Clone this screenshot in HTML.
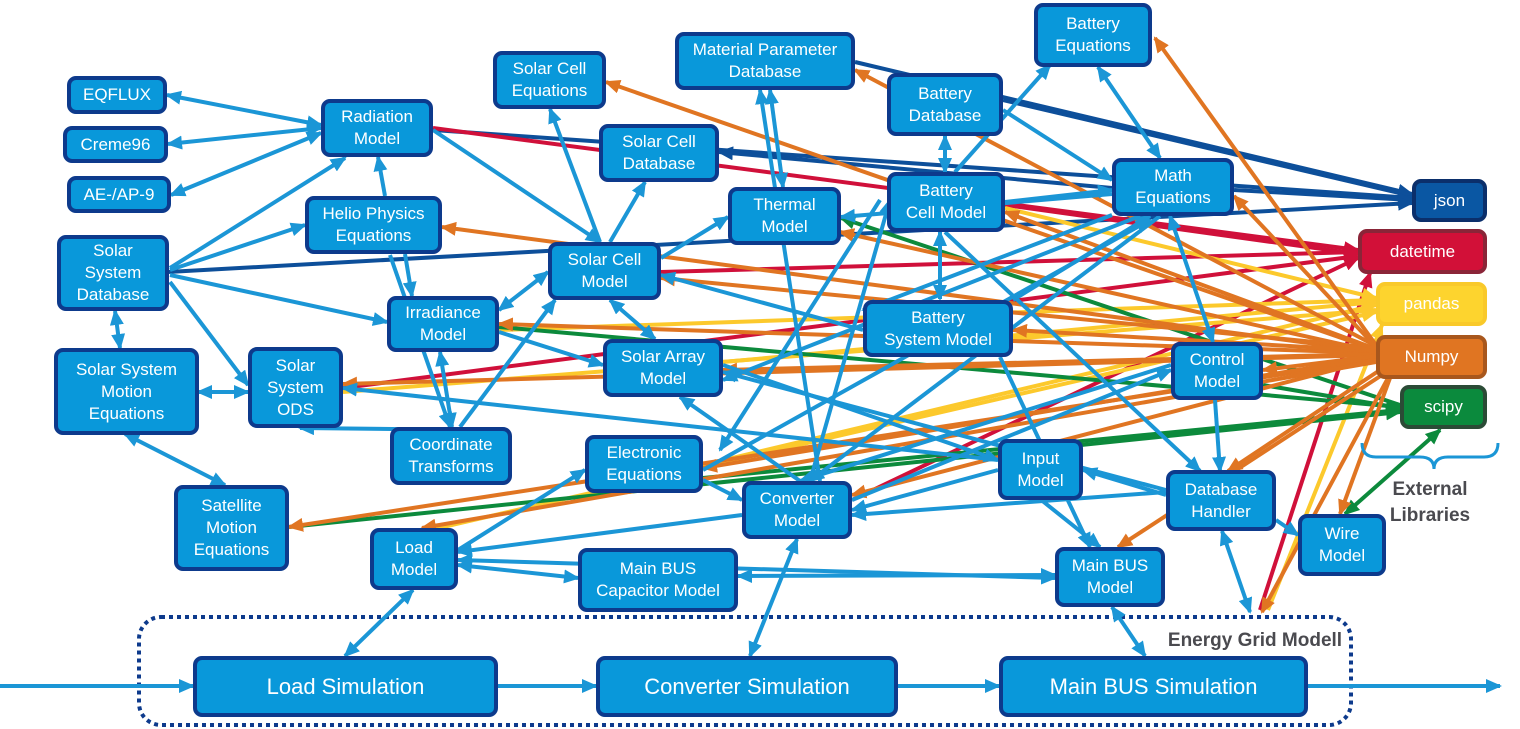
<!DOCTYPE html>
<html><head><meta charset="utf-8"><style>
html,body{margin:0;padding:0;background:#fff;width:1520px;height:729px;overflow:hidden;position:relative;font-family:"Liberation Sans Narrow","Liberation Sans",sans-serif}
svg{position:absolute;left:0;top:0}
.n{position:absolute;box-sizing:border-box;background:#0998da;border:4px solid #0d3a8c;border-radius:9px;color:#fff;display:flex;align-items:center;justify-content:center;text-align:center;font-size:17px;line-height:22px}
.big{font-size:22px}
.lbl{position:absolute;font-family:"Liberation Sans",sans-serif;font-weight:bold;color:#4a4a4f;font-size:19px;line-height:26px;text-align:center}
line{stroke-width:4;fill:none}
.B{stroke:#1b96d6}.D{stroke:#0d4f9a}.R{stroke:#d0103a}.Y{stroke:#fcc92c}.O{stroke:#e07522}.G{stroke:#0c8a3c}
</style></head><body>
<svg width="1520" height="729" viewBox="0 0 1520 729">
<defs>
<marker id="aB" markerUnits="userSpaceOnUse" markerWidth="16" markerHeight="14" refX="14" refY="7" orient="auto-start-reverse"><path d="M0,0L16,7L0,14z" fill="#1b96d6"/></marker>
<marker id="aD" markerUnits="userSpaceOnUse" markerWidth="16" markerHeight="14" refX="14" refY="7" orient="auto-start-reverse"><path d="M0,0L16,7L0,14z" fill="#0d4f9a"/></marker>
<marker id="aR" markerUnits="userSpaceOnUse" markerWidth="16" markerHeight="14" refX="14" refY="7" orient="auto-start-reverse"><path d="M0,0L16,7L0,14z" fill="#d0103a"/></marker>
<marker id="aY" markerUnits="userSpaceOnUse" markerWidth="16" markerHeight="14" refX="14" refY="7" orient="auto-start-reverse"><path d="M0,0L16,7L0,14z" fill="#fcc92c"/></marker>
<marker id="aO" markerUnits="userSpaceOnUse" markerWidth="16" markerHeight="14" refX="14" refY="7" orient="auto-start-reverse"><path d="M0,0L16,7L0,14z" fill="#e07522"/></marker>
<marker id="aG" markerUnits="userSpaceOnUse" markerWidth="16" markerHeight="14" refX="14" refY="7" orient="auto-start-reverse"><path d="M0,0L16,7L0,14z" fill="#0c8a3c"/></marker>
</defs>
<rect x="139" y="617" width="1212" height="108" rx="22" fill="none" stroke="#0d3a8c" stroke-width="4" stroke-dasharray="4 4"/>
<!-- dark blue -->
<g marker-end="url(#aD)">
<line class="D" x1="433" y1="130" x2="1412" y2="198"/>
<line class="D" x1="1003" y1="100" x2="1412" y2="196"/>
<line class="D" x1="855" y1="62" x2="1412" y2="194"/>
<line class="D" x1="1234" y1="190" x2="1412" y2="200"/>
<line class="D" x1="168" y1="272" x2="1412" y2="203"/>
<line class="D" x1="1112" y1="188" x2="719" y2="152"/>
</g>
<!-- red -->
<g marker-end="url(#aR)">
<line class="R" x1="433" y1="128" x2="1358" y2="250"/>
<line class="R" x1="661" y1="272" x2="1358" y2="252"/>
<line class="R" x1="1005" y1="205" x2="1358" y2="254"/>
<line class="R" x1="1358" y1="256" x2="343" y2="388"/>
<line class="R" x1="1260" y1="610" x2="1370" y2="273"/>
<line class="R" x1="852" y1="500" x2="1358" y2="258"/>
</g>
<!-- yellow -->
<g marker-end="url(#aY)">
<line class="Y" x1="499" y1="330" x2="1376" y2="300"/>
<line class="Y" x1="723" y1="362" x2="1376" y2="302"/>
<line class="Y" x1="703" y1="465" x2="1376" y2="305"/>
<line class="Y" x1="1005" y1="208" x2="1376" y2="298"/>
<line class="Y" x1="1268" y1="610" x2="1382" y2="325"/>
<line class="Y" x1="343" y1="392" x2="1376" y2="310"/>
<line class="Y" x1="430" y1="530" x2="1376" y2="312"/>
</g>
<!-- green -->
<g marker-end="url(#aG)">
<line class="G" x1="1400" y1="405" x2="841" y2="218"/>
<line class="G" x1="499" y1="327" x2="1400" y2="407"/>
<line class="G" x1="703" y1="478" x2="1400" y2="410"/>
<line class="G" x1="1263" y1="385" x2="1400" y2="408"/>
<line class="G" x1="289" y1="527" x2="1400" y2="412"/>
<line class="G" x1="1345" y1="514" x2="1440" y2="430" marker-start="url(#aG)"/>
</g>
<!-- orange -->
<g marker-end="url(#aO)">
<line class="O" x1="1376" y1="350" x2="606" y2="82"/>
<line class="O" x1="1376" y1="352" x2="442" y2="227"/>
<line class="O" x1="1376" y1="360" x2="289" y2="527"/>
<line class="O" x1="1376" y1="355" x2="343" y2="384"/>
<line class="O" x1="1376" y1="353" x2="499" y2="324"/>
<line class="O" x1="1376" y1="345" x2="1155" y2="38"/>
<line class="O" x1="1376" y1="347" x2="1234" y2="196"/>
<line class="O" x1="1376" y1="349" x2="1005" y2="212"/>
<line class="O" x1="1380" y1="370" x2="1228" y2="471"/>
<line class="O" x1="1382" y1="375" x2="1118" y2="547"/>
<line class="O" x1="1376" y1="357" x2="703" y2="468"/>
<line class="O" x1="1376" y1="359" x2="852" y2="495"/>
<line class="O" x1="1376" y1="362" x2="422" y2="528"/>
<line class="O" x1="1376" y1="354" x2="723" y2="370"/>
<line class="O" x1="1376" y1="356" x2="1263" y2="370"/>
<line class="O" x1="1376" y1="351" x2="1013" y2="330"/>
<line class="O" x1="1388" y1="378" x2="1262" y2="612"/>
<line class="O" x1="1376" y1="346" x2="855" y2="70"/>
<line class="O" x1="1376" y1="348" x2="661" y2="278"/>
<line class="O" x1="1376" y1="352" x2="840" y2="232"/>
<line class="O" x1="1390" y1="378" x2="1340" y2="514"/>
</g>
<!-- light blue one-way -->
<g marker-end="url(#aB)">
<line class="B" x1="170" y1="268" x2="345" y2="158"/>
<line class="B" x1="170" y1="270" x2="305" y2="225"/>
<line class="B" x1="170" y1="275" x2="387" y2="322"/>
<line class="B" x1="170" y1="282" x2="248" y2="385"/>
<line class="B" x1="385" y1="196" x2="378" y2="157"/>
<line class="B" x1="405" y1="254" x2="412" y2="296"/>
<line class="B" x1="433" y1="130" x2="600" y2="242"/>
<line class="B" x1="600" y1="242" x2="550" y2="109"/>
<line class="B" x1="610" y1="242" x2="645" y2="182"/>
<line class="B" x1="661" y1="258" x2="728" y2="217"/>
<line class="B" x1="460" y1="427" x2="555" y2="300"/>
<line class="B" x1="499" y1="332" x2="603" y2="365"/>
<line class="B" x1="998" y1="460" x2="343" y2="388"/>
<line class="B" x1="480" y1="430" x2="300" y2="428"/>
<line class="B" x1="390" y1="255" x2="450" y2="427"/>
<line class="B" x1="955" y1="172" x2="1050" y2="65"/>
<line class="B" x1="1005" y1="202" x2="1112" y2="190"/>
<line class="B" x1="1112" y1="194" x2="841" y2="217"/>
<line class="B" x1="1013" y1="300" x2="1150" y2="216"/>
<line class="B" x1="945" y1="232" x2="1200" y2="471"/>
<line class="B" x1="810" y1="481" x2="890" y2="200"/>
<line class="B" x1="820" y1="481" x2="760" y2="90"/>
<line class="B" x1="703" y1="470" x2="1150" y2="220"/>
<line class="B" x1="852" y1="500" x2="1171" y2="370"/>
<line class="B" x1="723" y1="365" x2="998" y2="460"/>
<line class="B" x1="998" y1="470" x2="852" y2="510"/>
<line class="B" x1="1166" y1="492" x2="852" y2="515"/>
<line class="B" x1="1166" y1="495" x2="1083" y2="470"/>
<line class="B" x1="1276" y1="520" x2="1298" y2="535"/>
<line class="B" x1="742" y1="515" x2="458" y2="552"/>
<line class="B" x1="458" y1="550" x2="585" y2="470"/>
<line class="B" x1="703" y1="480" x2="742" y2="500"/>
<line class="B" x1="800" y1="481" x2="680" y2="397"/>
<line class="B" x1="1040" y1="499" x2="1100" y2="547"/>
<line class="B" x1="1215" y1="400" x2="1220" y2="471"/>
<line class="B" x1="1000" y1="357" x2="1090" y2="547"/>
<line class="B" x1="1112" y1="215" x2="863" y2="310"/>
<line class="B" x1="1140" y1="216" x2="723" y2="380"/>
<line class="B" x1="1166" y1="490" x2="723" y2="372"/>
<line class="B" x1="880" y1="200" x2="720" y2="450"/>
<line class="B" x1="1171" y1="365" x2="800" y2="481"/>
<line class="B" x1="1160" y1="216" x2="810" y2="481"/>
<line class="B" x1="1003" y1="110" x2="1112" y2="180"/>
<line class="B" x1="863" y1="330" x2="661" y2="275"/>
<line class="B" x1="0" y1="686" x2="193" y2="686"/>
<line class="B" x1="498" y1="686" x2="596" y2="686"/>
<line class="B" x1="898" y1="686" x2="999" y2="686"/>
<line class="B" x1="1308" y1="686" x2="1500" y2="686"/>
</g>
<!-- light blue bidirectional -->
<g marker-end="url(#aB)" marker-start="url(#aB)">
<line class="B" x1="167" y1="95" x2="321" y2="125"/>
<line class="B" x1="168" y1="144" x2="321" y2="128"/>
<line class="B" x1="171" y1="195" x2="321" y2="133"/>
<line class="B" x1="115" y1="311" x2="120" y2="348"/>
<line class="B" x1="198" y1="392" x2="248" y2="392"/>
<line class="B" x1="125" y1="434" x2="225" y2="485"/>
<line class="B" x1="440" y1="352" x2="452" y2="427"/>
<line class="B" x1="610" y1="300" x2="655" y2="339"/>
<line class="B" x1="548" y1="272" x2="499" y2="310"/>
<line class="B" x1="770" y1="90" x2="783" y2="187"/>
<line class="B" x1="945" y1="136" x2="945" y2="172"/>
<line class="B" x1="1098" y1="67" x2="1160" y2="158"/>
<line class="B" x1="940" y1="232" x2="940" y2="299"/>
<line class="B" x1="1170" y1="216" x2="1213" y2="342"/>
<line class="B" x1="1222" y1="531" x2="1250" y2="612"/>
<line class="B" x1="797" y1="539" x2="750" y2="656"/>
<line class="B" x1="413" y1="590" x2="345" y2="656"/>
<line class="B" x1="1112" y1="607" x2="1145" y2="656"/>
<line class="B" x1="458" y1="565" x2="578" y2="578"/>
<line class="B" x1="458" y1="560" x2="1055" y2="578"/>
<line class="B" x1="738" y1="576" x2="1055" y2="575"/>
</g>
<path d="M1362,443 q0,14 14,14 h44 q14,0 14,12 q0,-12 14,-12 h36 q14,0 14,-14" fill="none" stroke="#1b96d6" stroke-width="3"/>
</svg>

<div class="n" style="left:67px;top:76px;width:100px;height:38px">EQFLUX</div>
<div class="n" style="left:63px;top:126px;width:105px;height:37px">Creme96</div>
<div class="n" style="left:67px;top:176px;width:104px;height:37px">AE-/AP-9</div>
<div class="n" style="left:321px;top:99px;width:112px;height:58px">Radiation<br>Model</div>
<div class="n" style="left:493px;top:51px;width:113px;height:58px">Solar Cell<br>Equations</div>
<div class="n" style="left:675px;top:32px;width:180px;height:58px">Material Parameter<br>Database</div>
<div class="n" style="left:1034px;top:3px;width:118px;height:64px">Battery<br>Equations</div>
<div class="n" style="left:887px;top:73px;width:116px;height:63px">Battery<br>Database</div>
<div class="n" style="left:599px;top:124px;width:120px;height:58px">Solar Cell<br>Database</div>
<div class="n" style="left:305px;top:196px;width:137px;height:58px">Helio Physics<br>Equations</div>
<div class="n" style="left:728px;top:187px;width:113px;height:58px">Thermal<br>Model</div>
<div class="n" style="left:887px;top:172px;width:118px;height:60px">Battery<br>Cell Model</div>
<div class="n" style="left:1112px;top:158px;width:122px;height:58px">Math<br>Equations</div>
<div class="n" style="left:1412px;top:179px;width:75px;height:43px;background:#0a57a3;border-color:#0b2f6b">json</div>
<div class="n" style="left:1358px;top:229px;width:129px;height:45px;background:#d21038;border-color:#8a2538">datetime</div>
<div class="n" style="left:1376px;top:282px;width:111px;height:44px;background:#fdd42e;border-color:#f9c92a">pandas</div>
<div class="n" style="left:1376px;top:335px;width:111px;height:44px;background:#e07522;border-color:#a8571d">Numpy</div>
<div class="n" style="left:1400px;top:385px;width:87px;height:44px;background:#0b8a3d;border-color:#2b4b36">scipy</div>
<div class="n" style="left:57px;top:235px;width:112px;height:76px">Solar<br>System<br>Database</div>
<div class="n" style="left:548px;top:242px;width:113px;height:58px">Solar Cell<br>Model</div>
<div class="n" style="left:387px;top:296px;width:112px;height:56px">Irradiance<br>Model</div>
<div class="n" style="left:863px;top:300px;width:150px;height:57px">Battery<br>System Model</div>
<div class="n" style="left:54px;top:348px;width:145px;height:87px">Solar System<br>Motion<br>Equations</div>
<div class="n" style="left:248px;top:347px;width:95px;height:81px">Solar<br>System<br>ODS</div>
<div class="n" style="left:603px;top:339px;width:120px;height:58px">Solar Array<br>Model</div>
<div class="n" style="left:1171px;top:342px;width:92px;height:58px">Control<br>Model</div>
<div class="n" style="left:390px;top:427px;width:122px;height:58px">Coordinate<br>Transforms</div>
<div class="n" style="left:585px;top:435px;width:118px;height:58px">Electronic<br>Equations</div>
<div class="n" style="left:998px;top:439px;width:85px;height:61px">Input<br>Model</div>
<div class="n" style="left:742px;top:481px;width:110px;height:58px">Converter<br>Model</div>
<div class="n" style="left:1166px;top:470px;width:110px;height:61px">Database<br>Handler</div>
<div class="n" style="left:174px;top:485px;width:115px;height:86px">Satellite<br>Motion<br>Equations</div>
<div class="n" style="left:370px;top:528px;width:88px;height:62px">Load<br>Model</div>
<div class="n" style="left:1298px;top:514px;width:88px;height:62px">Wire<br>Model</div>
<div class="n" style="left:578px;top:548px;width:160px;height:64px">Main BUS<br>Capacitor Model</div>
<div class="n" style="left:1055px;top:547px;width:110px;height:60px">Main BUS<br>Model</div>
<div class="n big" style="left:193px;top:656px;width:305px;height:61px">Load Simulation</div>
<div class="n big" style="left:596px;top:656px;width:302px;height:61px">Converter Simulation</div>
<div class="n big" style="left:999px;top:656px;width:309px;height:61px">Main BUS Simulation</div>
<div class="lbl" style="left:1160px;top:628px;width:190px">Energy Grid Modell</div>
<div class="lbl" style="left:1380px;top:477px;width:100px">External<br>Libraries</div>
</body></html>
